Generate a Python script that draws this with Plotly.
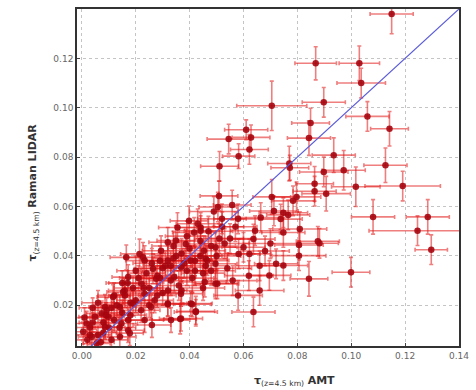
import plotly.graph_objects as go

# Aerosol optical depth at z = 4.5 km: AMT (x) vs Raman LIDAR (y), with 1-sigma errors
amt = [
    0.115, 0.0868, 0.103, 0.1037, 0.0705, 0.0898, 0.106, 0.0849, 0.1142, 0.061,
    0.0545, 0.0628, 0.0843, 0.0622, 0.0582, 0.0935, 0.077, 0.0511, 0.1127, 0.0772,
    0.0898, 0.0972, 0.0864, 0.1017, 0.1191, 0.0509, 0.0705, 0.0797, 0.0864, 0.0907,
    0.1081, 0.1284, 0.1246, 0.1297, 0.0999, 0.0843, 0.0637, 0.0696, 0.0748, 0.0721,
    0.0806, 0.0806, 0.0809, 0.0876, 0.0882, 0.0748, 0.0738, 0.0766, 0.0713, 0.0748,
    0.0664, 0.0643, 0.0637, 0.0622, 0.0582, 0.060, 0.057, 0.0784, 0.0505, 0.0558,
    0.046, 0.0496, 0.0456, 0.0503, 0.0441, 0.0521, 0.0365, 0.0423, 0.041, 0.0319,
    0.0172, 0.0178,
    0.0398, 0.0441, 0.0417, 0.0349, 0.0386, 0.0319, 0.0294, 0.0233, 0.0319, 0.0264,
    0.0214, 0.0172, 0.0221, 0.0276, 0.0343, 0.0368, 0.0404, 0.0453, 0.0466, 0.0496,
    0.0496, 0.0233, 0.0159, 0.0116, 0.019, 0.0141, 0.0257, 0.0319, 0.0368, 0.0404,
    0.0331, 0.0368, 0.0423, 0.0074, 0.0049, 0.0018, 0.0005, 0.0086, 0.0086, 0.0037,
    0.0172, 0.0233, 0.0147, 0.0055, 0.0098,
    0.020, 0.025, 0.028, 0.030, 0.033, 0.035, 0.038, 0.040, 0.042, 0.044,
    0.047, 0.048, 0.030, 0.027, 0.022, 0.018, 0.015, 0.012, 0.010, 0.008,
    0.006, 0.013, 0.016, 0.019, 0.024, 0.029, 0.034, 0.039, 0.043, 0.036,
    0.041, 0.045, 0.050, 0.053, 0.055, 0.058, 0.052, 0.049, 0.054, 0.056,
    0.062, 0.066, 0.068, 0.070, 0.066, 0.058, 0.0355, 0.0227, 0.0165, 0.0092,
    0.0153, 0.0141, 0.002, 0.003, 0.001, 0.004, 0.007, 0.011, 0.026, 0.032,
    0.004, 0.006, 0.009, 0.012, 0.014, 0.017, 0.020, 0.023, 0.026, 0.028,
    0.031, 0.034, 0.037, 0.039, 0.044, 0.046, 0.048, 0.051, 0.003, 0.008,
    0.011, 0.015, 0.018, 0.021, 0.025, 0.029, 0.033, 0.037, 0.042, 0.045,
]
lidar = [
    0.138, 0.118, 0.118, 0.110, 0.1008, 0.1022, 0.0965, 0.0938, 0.0915, 0.0911,
    0.0873, 0.088, 0.0877, 0.0831, 0.0804, 0.0808, 0.0774, 0.0763, 0.0767, 0.0757,
    0.0740, 0.0747, 0.0692, 0.0680, 0.0683, 0.0643, 0.0639, 0.0639, 0.0662, 0.0652,
    0.0558, 0.0558, 0.0502, 0.0425, 0.0334, 0.0307, 0.0173, 0.0321, 0.0361, 0.0368,
    0.0401, 0.0444, 0.0509, 0.0459, 0.0451, 0.0495, 0.0549, 0.0566, 0.0582, 0.0575,
    0.0555, 0.0502, 0.0468, 0.0408, 0.0408, 0.0435, 0.0518, 0.0623, 0.0598, 0.0606,
    0.0388, 0.0368, 0.0294, 0.0287, 0.0502, 0.0518, 0.0144, 0.0176, 0.0204, 0.0204,
    0.014, 0.0087,
    0.0542, 0.0515, 0.0495, 0.0462, 0.0448, 0.0455, 0.0421, 0.0381, 0.0381, 0.0348,
    0.0408, 0.0314, 0.0287, 0.0307, 0.0314, 0.0354, 0.0381, 0.0421, 0.0381, 0.0435,
    0.0287, 0.0247, 0.026, 0.0233, 0.0207, 0.0193, 0.0193, 0.0207, 0.0247, 0.0207,
    0.014, 0.0146, 0.0173, 0.0167, 0.0153, 0.0126, 0.0093, 0.0193, 0.0113, 0.0072,
    0.0099, 0.014, 0.0126, 0.0045, 0.0153,
    0.022, 0.027, 0.032, 0.035, 0.030, 0.040, 0.037, 0.043, 0.038, 0.046,
    0.050, 0.034, 0.025, 0.022, 0.018, 0.016, 0.017, 0.014, 0.011, 0.009,
    0.008, 0.020, 0.024, 0.027, 0.033, 0.038, 0.044, 0.048, 0.053, 0.028,
    0.031, 0.033, 0.040, 0.045, 0.047, 0.055, 0.055, 0.058, 0.035, 0.030,
    0.032, 0.036, 0.042, 0.045, 0.026, 0.024, 0.0515, 0.0394, 0.0394, 0.018,
    0.0254, 0.0072, 0.006, 0.011, 0.015, 0.019, 0.005, 0.006, 0.012, 0.026,
    0.013, 0.021, 0.016, 0.024, 0.011, 0.029, 0.034, 0.027, 0.037, 0.024,
    0.036, 0.039, 0.041, 0.034, 0.040, 0.036, 0.044, 0.047, 0.008, 0.013,
    0.019, 0.029, 0.021, 0.031, 0.020, 0.031, 0.036, 0.026, 0.034, 0.027,
]
amt_err = [
    0.008, 0.0077, 0.0075, 0.009, 0.013, 0.008, 0.008, 0.007, 0.007, 0.008,
    0.008, 0.007, 0.008, 0.007, 0.006, 0.008, 0.008, 0.007, 0.008, 0.007,
    0.009, 0.008, 0.007, 0.009, 0.014, 0.007, 0.007, 0.009, 0.008, 0.009,
    0.008, 0.008, 0.018, 0.006, 0.007, 0.007, 0.008, 0.008, 0.009, 0.008,
    0.010, 0.009, 0.010, 0.008, 0.007, 0.008, 0.008, 0.008, 0.009, 0.009,
    0.008, 0.009, 0.008, 0.008, 0.008, 0.008, 0.008, 0.008, 0.007, 0.007,
    0.008, 0.008, 0.008, 0.008, 0.008, 0.008, 0.006, 0.007, 0.007, 0.006,
    0.006, 0.005,
    0.007, 0.008, 0.008, 0.007, 0.007, 0.007, 0.007, 0.007, 0.008, 0.007,
    0.007, 0.006, 0.007, 0.007, 0.008, 0.008, 0.008, 0.008, 0.008, 0.008,
    0.008, 0.007, 0.006, 0.006, 0.007, 0.006, 0.007, 0.007, 0.008, 0.008,
    0.007, 0.008, 0.008, 0.006, 0.006, 0.005, 0.005, 0.006, 0.006, 0.005,
    0.006, 0.007, 0.006, 0.005, 0.006,
    0.007, 0.007, 0.007, 0.008, 0.008, 0.008, 0.008, 0.008, 0.008, 0.008,
    0.009, 0.009, 0.007, 0.007, 0.007, 0.006, 0.006, 0.006, 0.006, 0.005,
    0.005, 0.006, 0.006, 0.007, 0.007, 0.007, 0.008, 0.008, 0.008, 0.008,
    0.008, 0.008, 0.009, 0.009, 0.009, 0.009, 0.009, 0.009, 0.009, 0.009,
    0.009, 0.009, 0.009, 0.010, 0.009, 0.009, 0.007, 0.007, 0.006, 0.006,
    0.006, 0.006, 0.005, 0.005, 0.005, 0.005, 0.005, 0.006, 0.007, 0.007,
    0.005, 0.006, 0.006, 0.006, 0.006, 0.007, 0.007, 0.007, 0.007, 0.007,
    0.008, 0.008, 0.008, 0.008, 0.008, 0.008, 0.009, 0.009, 0.005, 0.006,
    0.006, 0.006, 0.007, 0.007, 0.007, 0.007, 0.008, 0.008, 0.008, 0.008,
]
lidar_err = [
    0.008, 0.0067, 0.007, 0.006, 0.010, 0.006, 0.006, 0.006, 0.007, 0.004,
    0.006, 0.005, 0.007, 0.006, 0.005, 0.007, 0.007, 0.006, 0.007, 0.005,
    0.006, 0.008, 0.007, 0.008, 0.006, 0.006, 0.007, 0.006, 0.006, 0.007,
    0.007, 0.007, 0.006, 0.006, 0.006, 0.007, 0.006, 0.006, 0.006, 0.006,
    0.006, 0.006, 0.007, 0.006, 0.006, 0.006, 0.006, 0.006, 0.006, 0.006,
    0.006, 0.006, 0.006, 0.006, 0.006, 0.006, 0.006, 0.006, 0.006, 0.006,
    0.006, 0.006, 0.006, 0.006, 0.006, 0.006, 0.006, 0.006, 0.005, 0.005,
    0.005, 0.005,
    0.006, 0.006, 0.006, 0.006, 0.006, 0.006, 0.006, 0.006, 0.006, 0.006,
    0.006, 0.005, 0.005, 0.005, 0.006, 0.006, 0.006, 0.006, 0.006, 0.006,
    0.006, 0.005, 0.005, 0.005, 0.005, 0.005, 0.005, 0.005, 0.005, 0.005,
    0.005, 0.005, 0.005, 0.005, 0.005, 0.005, 0.005, 0.005, 0.005, 0.004,
    0.005, 0.005, 0.005, 0.004, 0.005,
    0.005, 0.005, 0.006, 0.006, 0.006, 0.006, 0.006, 0.006, 0.006, 0.006,
    0.006, 0.006, 0.005, 0.005, 0.005, 0.005, 0.005, 0.005, 0.004, 0.004,
    0.004, 0.005, 0.005, 0.005, 0.005, 0.006, 0.006, 0.006, 0.006, 0.006,
    0.006, 0.006, 0.006, 0.006, 0.006, 0.006, 0.006, 0.006, 0.006, 0.006,
    0.006, 0.006, 0.006, 0.006, 0.006, 0.006, 0.006, 0.006, 0.005, 0.005,
    0.005, 0.004, 0.004, 0.004, 0.004, 0.004, 0.004, 0.004, 0.005, 0.005,
    0.004, 0.005, 0.005, 0.005, 0.004, 0.005, 0.006, 0.005, 0.006, 0.005,
    0.006, 0.006, 0.006, 0.006, 0.006, 0.006, 0.006, 0.006, 0.004, 0.004,
    0.005, 0.005, 0.005, 0.005, 0.005, 0.005, 0.006, 0.005, 0.006, 0.005,
]

x_ticks = [0.00, 0.02, 0.04, 0.06, 0.08, 0.10, 0.12, 0.14]
y_ticks = [0.02, 0.04, 0.06, 0.08, 0.10, 0.12]
one_to_one = [0.0, 0.14]

fig = go.Figure()

fig.add_trace(go.Scatter(
    x=amt, y=lidar, mode="markers",
    marker=dict(size=6.5, color="rgba(165,5,15,0.9)", line=dict(width=0)),
    error_x=dict(type="data", array=amt_err, visible=True,
                 color="rgba(225,20,20,0.55)", thickness=1.6, width=2),
    error_y=dict(type="data", array=lidar_err, visible=True,
                 color="rgba(225,20,20,0.55)", thickness=1.6, width=2),
    showlegend=False, cliponaxis=True,
))

fig.add_trace(go.Scatter(
    x=one_to_one, y=one_to_one, mode="lines",
    line=dict(color="#5a5ad8", width=1.2), showlegend=False,
))

axis_common = dict(
    showline=True, linecolor="#333", linewidth=1.6, mirror=True,
    showgrid=True, gridcolor="#c4c4c4", gridwidth=1, griddash="dot",
    zeroline=False, ticks="inside", ticklen=3, tickcolor="#444",
    tickfont=dict(family="DejaVu Sans", size=9, color="#666"),
)

fig.update_xaxes(range=[-0.0018, 0.14], tickvals=x_ticks,
                 ticktext=[f"{v:.2f}" for v in x_ticks], **axis_common)
fig.update_yaxes(range=[0.0035, 0.14], tickvals=y_ticks,
                 ticktext=[f"{v:.2f}" for v in y_ticks], **axis_common)

title_font = dict(family="DejaVu Sans", size=11, color="#333")
fig.add_annotation(
    text="<b>τ</b><sub>(z=4.5 km)</sub> <b>Raman LIDAR</b>",
    xref="paper", yref="paper", x=-0.114, y=0.457, textangle=-90,
    showarrow=False, font=title_font, xanchor="center", yanchor="middle",
)
fig.add_annotation(
    text="<b>τ</b><sub>(z=4.5 km)</sub> <b>AMT</b>",
    xref="paper", yref="paper", x=0.57, y=-0.105,
    showarrow=False, font=title_font, xanchor="center", yanchor="middle",
)

fig.update_layout(
    width=476, height=390,
    margin=dict(l=77, r=14, t=7, b=44),
    paper_bgcolor="white", plot_bgcolor="white",
)

fig.write_html("out.html")
